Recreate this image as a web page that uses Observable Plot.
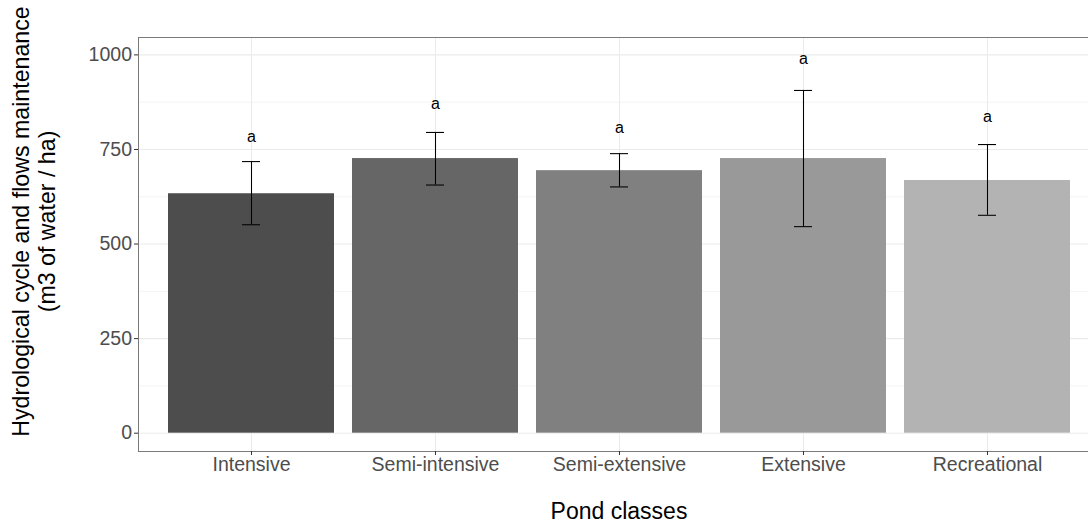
<!DOCTYPE html>
<html>
<head>
<meta charset="utf-8">
<script src="https://cdn.jsdelivr.net/npm/d3@7"></script>
<script src="https://cdn.jsdelivr.net/npm/@observablehq/plot@0.6"></script>
<style>
  html, body { margin: 0; padding: 0; background: #fff; overflow: hidden; }
  #chart { width: 1088px; height: 524px; overflow: hidden; }
  #chart svg { max-width: none !important; width: 1100px; height: 524px; }
</style>
</head>
<body>
<div id="chart"></div>
<script>
const categories = ["Intensive", "Semi-intensive", "Semi-extensive", "Extensive", "Recreational"];
const means = [633, 726, 694, 726, 668];
const lower = [551, 656, 651, 546, 576];
const upper = [718, 795, 739, 906, 763];
const letters = ["a", "a", "a", "a", "a"];
const letterY = [783, 870, 807, 990, 835];
const fills = ["#4D4D4D", "#666666", "#808080", "#999999", "#B3B3B3"];
const majorTicks = [0, 250, 500, 750, 1000];
const minorTicks = [125, 375, 625, 875];
const xTitle = "Pond classes";
const yTitle = "Hydrological cycle and flows maintenance\n(m3 of water / ha)";

const data = categories.map((c, i) => ({
  cls: c, mean: means[i], lo: lower[i], hi: upper[i], letter: letters[i], ly: letterY[i]
}));

const font = "'Liberation Sans', Arial, Helvetica, sans-serif";

const chart = Plot.plot({
  width: 1100,
  height: 524,
  marginLeft: 138,
  marginRight: 1,
  marginTop: 37,
  marginBottom: 73,
  style: { fontFamily: font, background: "#fff", overflow: "visible", maxWidth: "none" },
  x: { domain: categories, paddingInner: 0.1, paddingOuter: 0.15, align: 0.5, label: null },
  y: { domain: [-48.4, 1046], label: null },
  color: { domain: categories, range: fills },
  marks: [
    Plot.ruleY(minorTicks, { stroke: "#EBEBEB", strokeWidth: 0.55 }),
    Plot.ruleY(majorTicks, { stroke: "#EBEBEB", strokeWidth: 1.07 }),
    Plot.ruleX(categories, { x: d => d, stroke: "#EBEBEB", strokeWidth: 1.07 }),
    Plot.barY(data, { x: "cls", y1: 0, y2: "mean", fill: "cls" }),
    Plot.ruleX(data, { x: "cls", y1: "lo", y2: "hi", stroke: "#000", strokeWidth: 1.07 }),
    Plot.tickY(data, { x: "cls", y: "lo", stroke: "#000", strokeWidth: 1.07, insetLeft: 74, insetRight: 74 }),
    Plot.tickY(data, { x: "cls", y: "hi", stroke: "#000", strokeWidth: 1.07, insetLeft: 74, insetRight: 74 }),
    Plot.text(data, { x: "cls", y: "ly", text: "letter", fill: "#000", fontSize: 16, lineAnchor: "middle" }),
    Plot.frame({ stroke: "#7a7a7a", strokeWidth: 1 }),
    Plot.axisY({ ticks: majorTicks, tickSize: 4, tickPadding: 2.5, stroke: "#333", fontSize: 19.5, color: "#4D4D4D", label: null, tickFormat: d => String(d) }),
    Plot.axisX({ tickSize: 4, tickPadding: 2, stroke: "#333", fontSize: 19.5, color: "#4D4D4D", label: null }),
    Plot.text([xTitle], { frameAnchor: "bottom", text: d => d, dy: 67, fontSize: 23, fill: "#000", lineAnchor: "bottom" }),
    Plot.text([yTitle], { frameAnchor: "left", textAnchor: "middle", text: d => d, rotate: -90, dx: -105, dy: -23, fontSize: 23.2, fill: "#000", lineAnchor: "middle", lineHeight: 1.15 })
  ]
});

document.getElementById("chart").appendChild(chart);
</script>
</body>
</html>
